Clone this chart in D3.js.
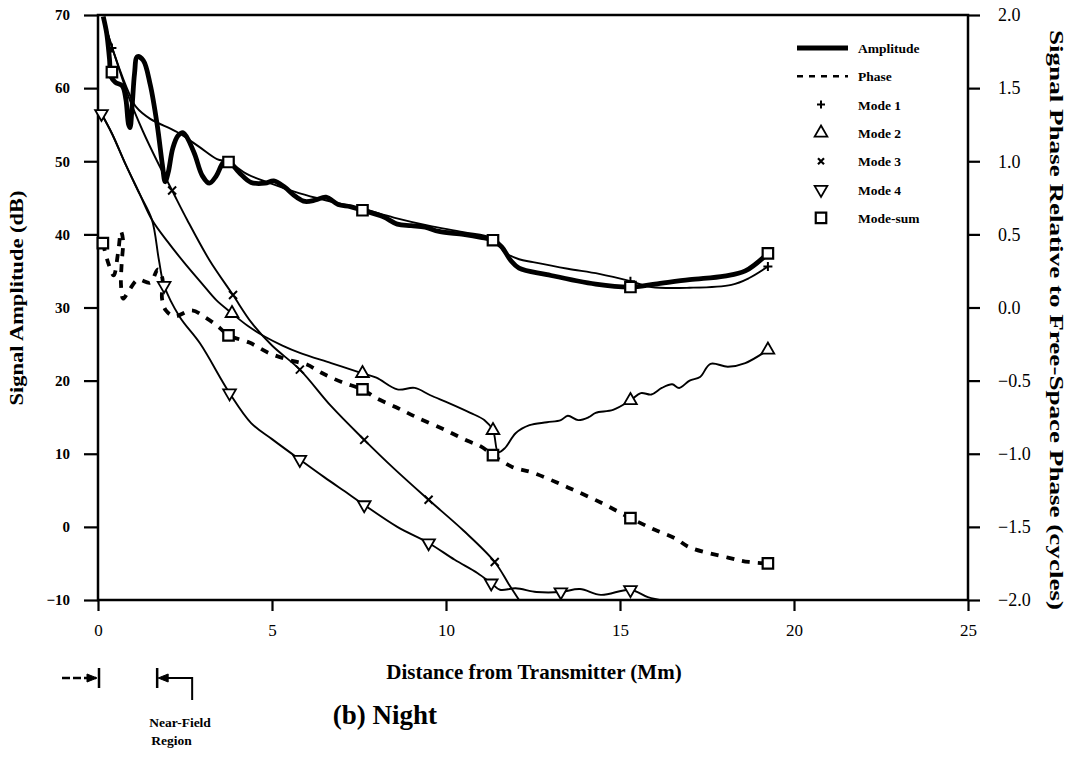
<!DOCTYPE html>
<html><head><meta charset="utf-8">
<script src="https://cdn.jsdelivr.net/npm/d3@7"></script>
<style>
body{margin:0;background:#fff}
svg{display:block}
text{font-family:"Liberation Serif","Times New Roman",serif;fill:#000}
</style>
</head><body>
<svg id="chart" width="1079" height="760"></svg>
<script>
// ---------- data (distance in Mm) ----------
const xTicks = [0, 5, 10, 15, 20, 25];
const leftTicks = [-10, 0, 10, 20, 30, 40, 50, 60, 70];
const rightTicks = [-2, -1.5, -1, -0.5, 0, 0.5, 1, 1.5, 2];
const nearField = [0, 1.7];

const amplitude = [[0.15,69.8],[0.25,67.5],[0.33,64],[0.38,61.5],[0.5,60.8],[0.7,60.3],[0.8,58.5],[0.88,55],[0.92,54.6],[0.98,57.5],[1.05,62],[1.13,64.3],[1.3,63.8],[1.5,60.5],[1.7,55],[1.85,49.5],[1.93,47.2],[2.02,48.5],[2.15,51.8],[2.3,53.5],[2.45,53.9],[2.75,51.3],[3.0,48.0],[3.2,47.0],[3.4,48.0],[3.6,49.8],[3.75,50.0],[4.05,48.5],[4.4,47.1],[4.8,47.0],[5.05,47.3],[5.35,46.5],[5.7,45.1],[5.95,44.5],[6.25,44.7],[6.55,45.1],[6.9,44.1],[7.25,43.8],[7.6,43.3],[8.2,42.4],[8.6,41.4],[9.0,41.2],[9.4,41.0],[9.8,40.4],[10.5,40.0],[11.0,39.6],[11.35,39.2],[11.6,38.3],[11.85,36.5],[12.1,35.4],[12.9,34.5],[14.3,33.2],[15.3,32.8],[16.0,33.2],[17.0,33.8],[18.0,34.3],[18.6,35.0],[19.25,37.4]];

const phase = [[0.14,0.44],[0.3,0.3],[0.45,0.22],[0.58,0.38],[0.66,0.52],[0.72,0.46],[0.68,0.3],[0.66,0.16],[0.72,0.06],[0.9,0.12],[1.15,0.19],[1.5,0.17],[1.72,0.26],[1.85,0.2],[1.84,0.06],[1.95,-0.02],[2.2,-0.06],[2.7,-0.02],[3.1,-0.07],[3.45,-0.13],[3.75,-0.19],[4.35,-0.24],[4.9,-0.31],[5.5,-0.36],[6.0,-0.39],[6.45,-0.45],[7.0,-0.51],[7.6,-0.56],[8.0,-0.62],[8.55,-0.68],[9.15,-0.75],[10.0,-0.84],[10.6,-0.91],[11.0,-0.95],[11.35,-1.01],[11.9,-1.09],[12.5,-1.13],[13.5,-1.23],[14.5,-1.34],[15.3,-1.44],[16.0,-1.52],[16.6,-1.58],[17.0,-1.64],[18.1,-1.71],[18.7,-1.74],[19.25,-1.75]];

const mode1 = [[0.15,69.5],[0.5,64.2],[0.9,59.2],[1.1,57.4],[1.5,55.8],[2.27,54.0],[2.9,52.0],[3.42,50.3],[3.75,49.9],[4.3,48.2],[5.0,46.9],[5.8,45.6],[6.6,44.6],[7.6,43.5],[8.5,42.3],[9.5,41.2],[10.5,40.3],[11.35,39.4],[11.7,37.5],[12.1,36.6],[12.5,36.2],[13.5,35.3],[14.4,34.6],[15.3,33.6],[15.9,32.8],[17.0,32.7],[18.2,33.1],[18.7,34.0],[19.25,35.6]];
const mode1Marks = [[0.4,65.5],[3.75,49.9],[7.6,43.5],[11.35,39.4],[15.3,33.6],[19.25,35.6]];

const mode2 = [[0.1,56.5],[0.4,53.8],[0.8,49.5],[1.2,45.5],[1.55,42.0],[2.0,39.0],[2.5,36.0],[3.0,33.2],[3.4,31.0],[3.85,29.2],[4.3,27.5],[4.8,26.0],[5.3,24.8],[5.8,23.8],[6.7,22.4],[7.6,21.0],[8.0,20.4],[8.6,18.8],[9.1,19.0],[9.55,18.0],[10.1,16.9],[10.7,15.6],[11.1,14.6],[11.35,13.2],[11.5,10.2],[11.7,10.8],[12.0,12.8],[12.4,13.9],[12.9,14.3],[13.3,14.6],[13.5,15.2],[13.8,14.6],[14.1,15.0],[14.3,15.6],[14.8,16.0],[15.3,17.3],[15.6,18.3],[15.9,18.1],[16.2,19.0],[16.5,19.5],[16.7,19.0],[17.0,20.0],[17.3,20.5],[17.6,22.3],[18.1,21.9],[18.6,22.4],[19.25,24.2]];
const mode2Marks = [[3.85,29.2],[7.6,21.0],[11.35,13.2],[15.3,17.3],[19.25,24.2]];

const mode3 = [[0.15,69.5],[0.5,64.2],[0.88,58.8],[1.3,54.0],[1.7,50.0],[2.13,46.0],[2.56,42.0],[3.2,36.5],[3.88,31.7],[4.4,28.0],[5.0,24.8],[5.8,21.5],[6.7,16.5],[7.65,11.9],[8.5,8.0],[9.5,3.7],[10.5,-0.5],[11.4,-4.8],[11.8,-7.8],[12.1,-10],[12.3,-11.5]];
const mode3Marks = [[2.13,46.0],[3.88,31.7],[5.8,21.5],[7.65,11.9],[9.5,3.7],[11.4,-4.8]];

const mode4 = [[0.1,56.5],[0.4,53.8],[0.8,49.5],[1.2,45.5],[1.55,42.0],[1.75,36.5],[1.9,33.0],[2.35,28.7],[2.93,25.1],[3.78,18.3],[4.4,14.2],[5.0,12.0],[5.8,9.2],[6.5,6.8],[7.2,4.5],[7.65,3.0],[8.6,0.0],[9.5,-2.2],[10.25,-4.5],[10.9,-6.3],[11.3,-7.7],[11.55,-8.6],[12.0,-8.4],[12.6,-8.9],[13.3,-8.9],[13.85,-8.5],[14.45,-9.3],[15.3,-8.6],[15.8,-9.6],[16.5,-10.3]];
const mode4Marks = [[0.1,56.5],[1.9,33.0],[3.78,18.3],[5.8,9.2],[7.65,3.0],[9.5,-2.2],[11.3,-7.7],[13.3,-8.9],[15.3,-8.6]];

const modeSumAmp = [[0.4,62.2],[3.75,49.9],[7.6,43.3],[11.35,39.2],[15.3,32.8],[19.25,37.4]];
const modeSumPhase = [[0.14,0.44],[3.75,-0.19],[7.6,-0.56],[11.35,-1.01],[15.3,-1.44],[19.25,-1.75]];

const legendItems = ["Amplitude","Phase","Mode 1","Mode 2","Mode 3","Mode 4","Mode-sum"];

// ---------- layout ----------
const svg = d3.select("#chart");
const L = 98, R = 968, T = 15, B = 600;
const x = d3.scaleLinear().domain([0, 25]).range([L, R]);
const yL = d3.scaleLinear().domain([-10, 70]).range([B, T]);
const yR = d3.scaleLinear().domain([-2, 2]).range([B, T]);

svg.append("defs").append("clipPath").attr("id","plot")
  .append("rect").attr("x",L).attr("y",T-2).attr("width",R-L).attr("height",B-T+2);

// axes
const gl = svg.append("g").attr("transform",`translate(${L},0)`)
  .call(d3.axisLeft(yL).tickValues(leftTicks).tickSize(14).tickSizeOuter(0).tickPadding(14).tickFormat(d3.format("d")));
gl.selectAll("text").style("font-size","15px").style("font-weight","bold");
const gb = svg.append("g").attr("transform",`translate(0,${B})`)
  .call(d3.axisBottom(x).tickValues(xTicks).tickSize(11).tickSizeOuter(0).tickPadding(13).tickFormat(d3.format("d")));
gb.selectAll("text").style("font-size","17px");
const gr = svg.append("g").attr("transform",`translate(${R},0)`)
  .call(d3.axisRight(yR).tickValues(rightTicks).tickSize(12).tickSizeOuter(0).tickPadding(18).tickFormat(d3.format(".1f")));
gr.selectAll("text").style("font-size","18px");
[gl,gb,gr].forEach(g=>{
  g.select(".domain").remove();
  g.selectAll("line").attr("stroke","#000").attr("stroke-width",2.2);
  g.selectAll("text").attr("fill","#000").style("font-family","'Liberation Serif',serif");
});
svg.append("rect").attr("x",L).attr("y",T).attr("width",R-L).attr("height",B-T)
  .attr("fill","none").attr("stroke","#000").attr("stroke-width",2.5);

// titles
svg.append("text").attr("transform","translate(23,298) rotate(-90)").attr("text-anchor","middle")
  .style("font-size","19px").style("font-weight","bold")
  .attr("textLength",215).attr("lengthAdjust","spacingAndGlyphs").text("Signal Amplitude (dB)");
svg.append("text").attr("transform","translate(1050,320) rotate(90)").attr("text-anchor","middle")
  .style("font-size","19px").style("font-weight","bold").attr("textLength",580).attr("lengthAdjust","spacingAndGlyphs")
  .text("Signal Phase Relative to Free-Space Phase (cycles)");
svg.append("text").attr("x",534).attr("y",679).attr("text-anchor","middle")
  .style("font-size","21px").style("font-weight","bold").text("Distance from Transmitter (Mm)");
svg.append("text").attr("x",385).attr("y",724).attr("text-anchor","middle")
  .style("font-size","27px").style("font-weight","bold").text("(b) Night");

// curves
const plot = svg.append("g").attr("clip-path","url(#plot)");
const lineL = d3.line().x(d=>x(d[0])).y(d=>yL(d[1])).curve(d3.curveCatmullRom.alpha(0.5));
const lineR = d3.line().x(d=>x(d[0])).y(d=>yR(d[1])).curve(d3.curveCatmullRom.alpha(0.5));
[mode1, mode2, mode3, mode4].forEach(m=>{
  plot.append("path").attr("d",lineL(m)).attr("fill","none").attr("stroke","#000").attr("stroke-width",1.9);
});
plot.append("path").attr("d",lineL(amplitude)).attr("fill","none").attr("stroke","#000").attr("stroke-width",4.8).attr("stroke-linejoin","round");
plot.append("path").attr("d",lineR(phase)).attr("fill","none").attr("stroke","#000").attr("stroke-width",3.8).attr("stroke-dasharray","8,8");

// markers
function crossPath(s, rot){
  const h = s/2;
  return rot ? `M${-h},${-h}L${h},${h}M${-h},${h}L${h},${-h}` : `M${-h},0L${h},0M0,${-h}L0,${h}`;
}
const tri = d3.symbol().type(d3.symbolTriangle).size(70)();
const sq = d3.symbol().type(d3.symbolSquare).size(110)();
function marks(data, yScale, kind){
  const g = svg.append("g");
  data.forEach(d=>{
    const t = `translate(${x(d[0])},${yScale(d[1])})`;
    if(kind==="plus") g.append("path").attr("transform",t).attr("d",crossPath(9,false)).attr("stroke","#000").attr("stroke-width",2);
    else if(kind==="x") g.append("path").attr("transform",t).attr("d",crossPath(8,true)).attr("stroke","#000").attr("stroke-width",2);
    else if(kind==="up") g.append("path").attr("transform",t).attr("d",tri).attr("fill","#fff").attr("stroke","#000").attr("stroke-width",1.8);
    else if(kind==="down") g.append("path").attr("transform",t+" rotate(180)").attr("d",tri).attr("fill","#fff").attr("stroke","#000").attr("stroke-width",1.8);
    else g.append("path").attr("transform",t).attr("d",sq).attr("fill","#fff").attr("stroke","#000").attr("stroke-width",2.2);
  });
}
marks(mode1Marks, yL, "plus");
marks(mode3Marks, yL, "x");
marks(mode2Marks, yL, "up");
marks(mode4Marks, yL, "down");
marks(modeSumAmp, yL, "sq");
marks(modeSumPhase, yR, "sq");

// legend
const lg = svg.append("g");
const rowY = i => 48 + i*28.3;
lg.append("line").attr("x1",797).attr("x2",848).attr("y1",rowY(0)).attr("y2",rowY(0)).attr("stroke","#000").attr("stroke-width",5);
lg.append("line").attr("x1",797).attr("x2",848).attr("y1",rowY(1)).attr("y2",rowY(1)).attr("stroke","#000").attr("stroke-width",2.5).attr("stroke-dasharray","6,6");
const kinds = [null,null,"plus","up","x","down","sq"];
kinds.forEach((k,i)=>{
  if(!k) return;
  const t = `translate(821,${rowY(i)})`;
  if(k==="plus") lg.append("path").attr("transform",t).attr("d",crossPath(8,false)).attr("stroke","#000").attr("stroke-width",2);
  if(k==="x") lg.append("path").attr("transform",t).attr("d",crossPath(6,true)).attr("stroke","#000").attr("stroke-width",2.2);
  if(k==="up") lg.append("path").attr("transform",t).attr("d",tri).attr("fill","#fff").attr("stroke","#000").attr("stroke-width",1.8);
  if(k==="down") lg.append("path").attr("transform",t+" rotate(180)").attr("d",tri).attr("fill","#fff").attr("stroke","#000").attr("stroke-width",1.8);
  if(k==="sq") lg.append("path").attr("transform",t).attr("d",sq).attr("fill","#fff").attr("stroke","#000").attr("stroke-width",2.2);
});
legendItems.forEach((s,i)=>{
  lg.append("text").attr("x",858).attr("y",rowY(i)+5).style("font-size","13.5px").style("font-weight","bold").text(s);
});

// near-field annotation
const na = svg.append("g").attr("stroke","#000").attr("fill","none");
const x0 = x(nearField[0]), x1 = x(nearField[1]), ay = 678;
na.append("line").attr("x1",x0-36).attr("x2",x0-2).attr("y1",ay).attr("y2",ay).attr("stroke-width",2.5).attr("stroke-dasharray","8,3");
na.append("path").attr("d",`M${x0-1},${ay}L${x0-11},${ay-4}L${x0-11},${ay+4}Z`).attr("fill","#000");
na.append("line").attr("x1",x0+1).attr("x2",x0+1).attr("y1",ay-10).attr("y2",ay+10).attr("stroke-width",2.5);
na.append("line").attr("x1",x1).attr("x2",x1).attr("y1",ay-10).attr("y2",ay+10).attr("stroke-width",2.5);
na.append("path").attr("d",`M${x1+1},${ay}L${x1+11},${ay-4}L${x1+11},${ay+4}Z`).attr("fill","#000");
na.append("path").attr("d",`M${x1+8},${ay}L${x1+35},${ay}L${x1+35},${ay+22}`).attr("stroke-width",2);
svg.append("text").attr("x",x1-8).attr("y",727).style("font-size","13.5px").style("font-weight","bold").text("Near-Field");
svg.append("text").attr("x",x1-6).attr("y",745).style("font-size","13.5px").style("font-weight","bold").text("Region");
</script>
</body></html>
